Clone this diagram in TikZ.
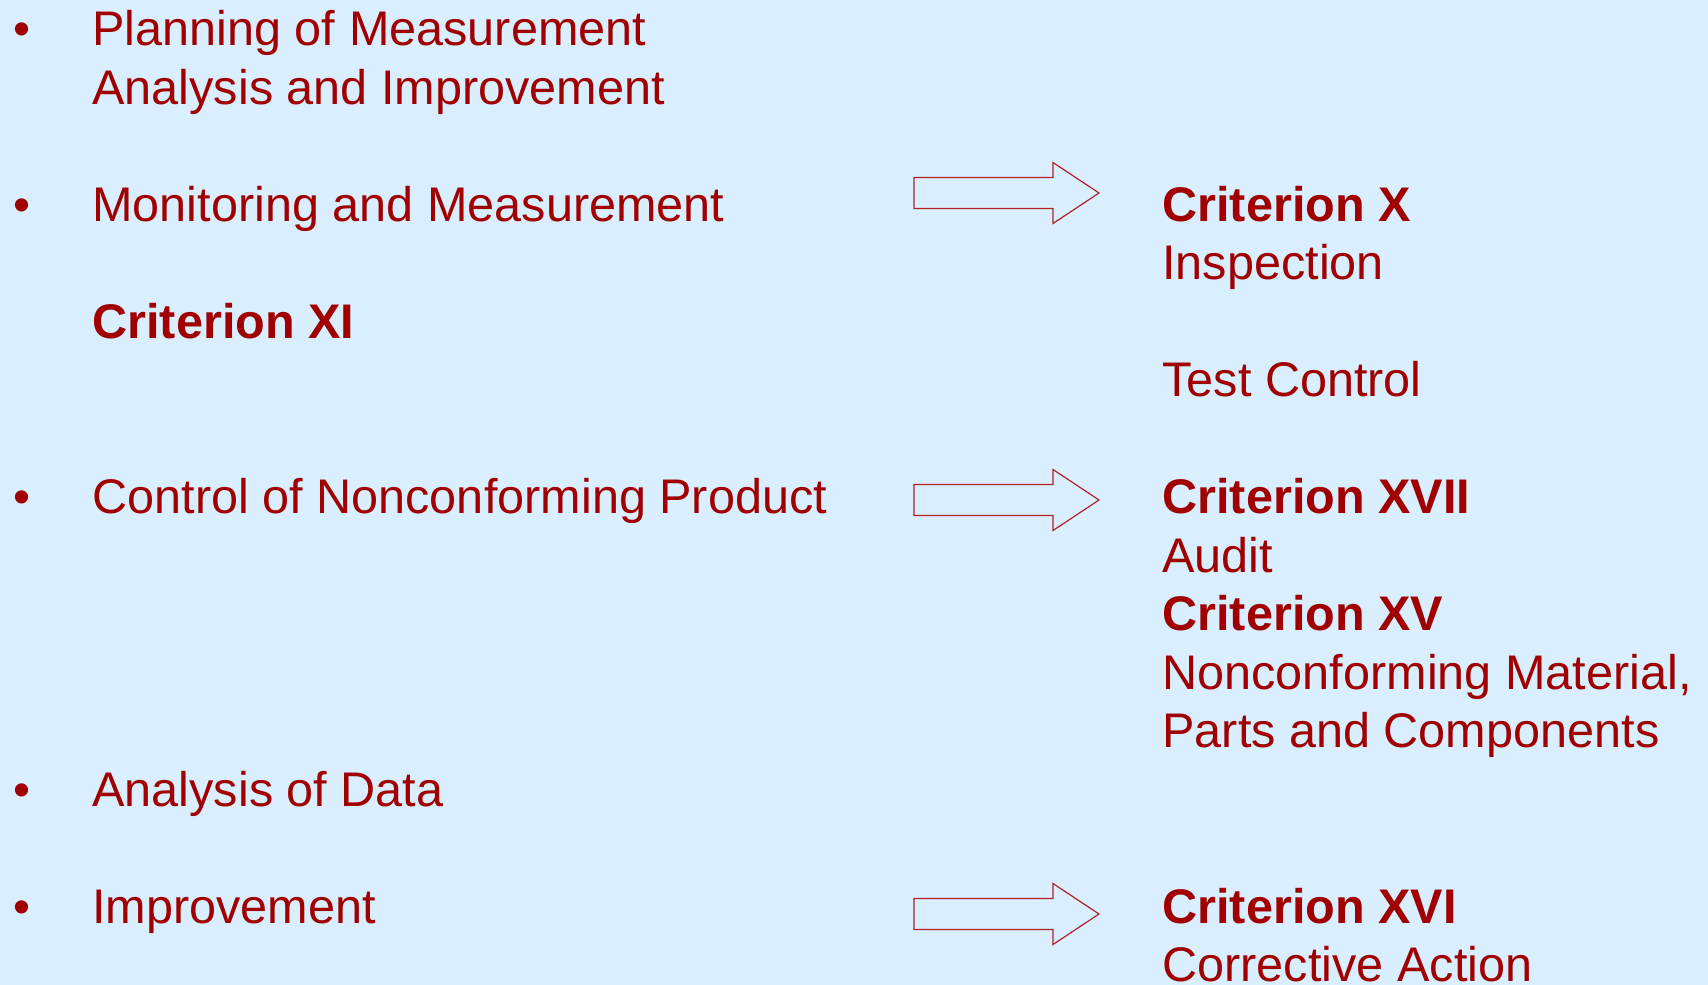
\documentclass[tikz,border=0pt]{standalone}
\usepackage{fontspec}
\setmainfont{Liberation Sans}
\definecolor{slidebg}{RGB}{217,238,255}
\definecolor{darkred}{RGB}{160,0,0}
\definecolor{arrowred}{RGB}{178,34,34}
\tikzset{
  item/.style={anchor=base west, inner sep=0pt, text=darkred, font=\fontsize{24.3}{29}\selectfont},
  crit/.style={item, font=\fontsize{24.3}{29}\selectfont\bfseries},
  dot/.style={anchor=base, inner sep=0pt, text=darkred, font=\fontsize{24.3}{29}\selectfont},
}
\begin{document}
\begin{tikzpicture}[x=0.5pt, y=-0.5pt]
	%background
	\fill[slidebg] (0,0) rectangle (1708,985);
	\useasboundingbox (0,0) rectangle (1708,985);
	
	%bullets
	\node[dot] (b1) at (22, 45.8){\textbullet};
	\node[dot] (b2) at (22, 221.3){\textbullet};
	\node[dot] (b3) at (22, 513.8){\textbullet};
	\node[dot] (b4) at (22, 806.3){\textbullet};
	\node[dot] (b5) at (22, 923.3){\textbullet};
	
	%left column
	\node[item] (plan) at (92, 45.8){Planning of Measurement};
	\node[item] (planb) at (92, 104.3){Analysis and Improvement};
	\node[item] (monitor) at (92, 221.3){Monitoring and Measurement};
	\node[crit] (critXI) at (92, 338.3){Criterion XI};
	\node[item] (control) at (92, 513.8){Control of Nonconforming Product};
	\node[item] (analysis) at (92, 806.3){Analysis of Data};
	\node[item] (improve) at (92, 923.3){Improvement};
	
	%right column
	\node[crit] (critX) at (1162, 221.3){Criterion X};
	\node[item] (inspect) at (1162, 279.8){Inspection};
	\node[item] (test) at (1162, 396.8){Test Control};
	\node[crit] (critXVII) at (1162, 513.8){Criterion XVII};
	\node[item] (audit) at (1162, 572.3){Audit};
	\node[crit] (critXV) at (1162, 630.8){Criterion XV};
	\node[item] (noncon) at (1162, 689.3){Nonconforming Material,};
	\node[item] (parts) at (1162, 747.8){Parts and Components};
	\node[crit] (critXVI) at (1162, 923.3){Criterion XVI};
	\node[item] (corr) at (1162, 981.8){Corrective Action};
	
	%block arrows
	\foreach \y in {193, 500, 914}{
		\draw[arrowred, fill=slidebg, line width=0.6pt] (914,\y-15.5) -- (1053,\y-15.5) -- (1053,\y-30.5) -- (1099,\y) -- (1053,\y+30.5) -- (1053,\y+15.5) -- (914,\y+15.5) -- cycle;
	}
\end{tikzpicture}
\end{document}
